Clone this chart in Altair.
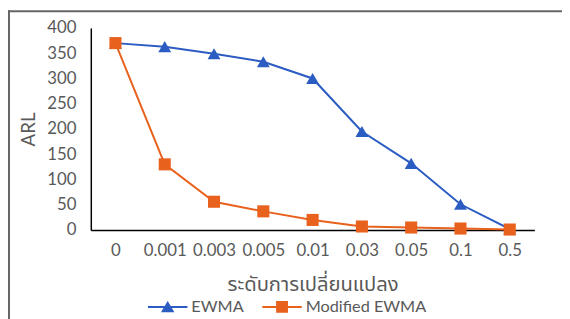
import altair as alt
import pandas as pd

shift_labels = ["0", "0.001", "0.003", "0.005", "0.01", "0.03", "0.05", "0.1", "0.5"]
ewma = [370, 363, 349, 333, 300, 195, 132, 51, 2]
modified_ewma = [370, 130, 56, 37, 20, 7, 5, 3, 1]
series_names = ["EWMA", "Modified EWMA"]
series_colors = ["#2B5CC2", "#E8611D"]
y_ticks = [0, 50, 100, 150, 200, 250, 300, 350, 400]

rows = []
for si, (name, vals) in enumerate(zip(series_names, [ewma, modified_ewma])):
    for lab, v in zip(shift_labels, vals):
        rows.append({"shift": lab, "ARL": v, "series": name, "sorder": si})
df = pd.DataFrame(rows)

FONT = "Lato, 'Noto Sans Thai', 'Noto Sans', sans-serif"
GRAY = "#595959"

x_enc = alt.X(
    "shift:N",
    sort=shift_labels,
    scale=alt.Scale(padding=0.5),
    axis=alt.Axis(
        title="ระดับการเปลี่ยนแปลง",
        labelAngle=0,
        ticks=False,
        grid=False,
        domainColor="black",
        domainWidth=1.5,
        labelPadding=13,
        labelFontSize=17,
        labelColor=GRAY,
        labelFont=FONT,
        titleFont=FONT,
        titleFontSize=20.5,
        titleFontWeight="normal",
        titleColor=GRAY,
        titlePadding=16,
    ),
)
y_enc = alt.Y(
    "ARL:Q",
    scale=alt.Scale(domain=[0, 400], nice=False),
    axis=alt.Axis(
        title="ARL",
        values=y_ticks,
        ticks=False,
        grid=False,
        domainColor="black",
        domainWidth=1.5,
        labelPadding=15,
        labelFontSize=17,
        labelColor=GRAY,
        labelFont=FONT,
        titleFont=FONT,
        titleFontSize=19,
        titleFontWeight="normal",
        titleColor=GRAY,
        titlePadding=9,
    ),
)

color_enc = alt.Color("series:N", sort=series_names,
                      scale=alt.Scale(domain=series_names, range=series_colors), legend=None)

base = alt.Chart(df)

lines = base.mark_line(strokeWidth=2).encode(
    x=x_enc, y=y_enc, color=color_enc, order=alt.Order("sorder:Q"),
)

points = base.mark_point(filled=True, opacity=1).encode(
    x=x_enc,
    y=y_enc,
    color=color_enc,
    shape=alt.Shape("series:N", scale=alt.Scale(domain=series_names, range=["triangle-up", "square"]), legend=None),
    size=alt.Size("series:N", scale=alt.Scale(domain=series_names, range=[170, 150]), legend=None),
    order=alt.Order("sorder:Q"),
)

legend_paths = [
    "M-1,-0.05L1,-0.05L1,0.05L-1,0.05Z M0,-0.3L0.34,0.27L-0.34,0.27Z",
    "M-1,-0.05L1,-0.05L1,0.05L-1,0.05Z M-0.3,-0.3L0.3,-0.3L0.3,0.3L-0.3,0.3Z",
]
legend_x = [58, 174]

legend_layers = []
for i, name in enumerate(series_names):
    fld = f"legend_series_{i}"
    legend_layers.append(
        base.transform_filter(alt.datum.series == name)
        .transform_calculate(**{fld: "datum.series"})
        .mark_point(filled=True, opacity=0, color=series_colors[i])
        .encode(
            x=x_enc,
            y=y_enc,
            shape=alt.Shape(
                f"{fld}:N",
                scale=alt.Scale(domain=[name], range=[legend_paths[i]]),
                legend=alt.Legend(
                    title=None,
                    orient="none",
                    direction="horizontal",
                    legendX=legend_x[i],
                    legendY=263,
                    symbolFillColor=series_colors[i],
                ),
            ),
        )
    )

frame_df = pd.DataFrame({"k": [0]})
frame_top = alt.Chart(frame_df).mark_rule(color="#666666", strokeWidth=2).encode(
    x=alt.value(-84), x2=alt.value(480), y=alt.value(-17)
)
frame_left = alt.Chart(frame_df).mark_rule(color="#666666", strokeWidth=2).encode(
    x=alt.value(-83), y=alt.value(-18), y2=alt.value(300)
)

chart = (
    alt.layer(frame_top, frame_left, lines, points, *legend_layers)
    .resolve_scale(shape="independent", size="independent")
    .resolve_legend(shape="independent")
    .properties(
        width=450,
        height=205,
        autosize=alt.AutoSizeParams(type="none"),
        padding={"left": 84, "top": 18, "right": 28, "bottom": 88},
    )
    .configure_view(stroke=None)
    .configure_legend(
        symbolSize=1600,
        symbolOpacity=1,
        symbolStrokeWidth=0,
        labelFontSize=16.5,
        labelColor=GRAY,
        labelFont=FONT,
        labelOffset=4,
        padding=0,
    )
)

chart.save("out.html", embed_options={"renderer": "svg", "actions": False})
